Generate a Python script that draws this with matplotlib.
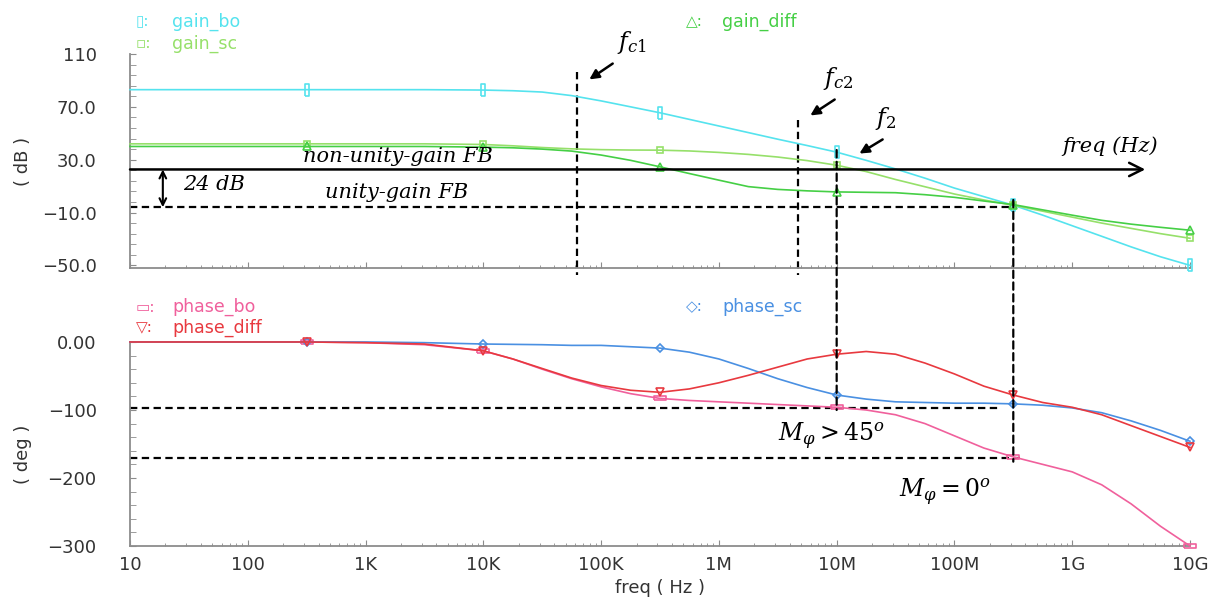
import numpy as np
import matplotlib
matplotlib.use( 'Agg' )
import matplotlib.pyplot as plt
from matplotlib.patches import ConnectionPatch, FancyArrowPatch
from matplotlib.ticker import FixedLocator, LogLocator, NullFormatter

W, H = 1226, 600

# values (freq in Hz)
freq_hz = [ 10, 100, 316, 1e3, 3.16e3, 1e4, 1.78e4, 3.16e4, 5.62e4, 1e5,
            1.78e5, 3.16e5, 5.62e5, 1e6, 1.78e6, 3.16e6, 5.62e6, 1e7, 1.78e7, 3.16e7,
            5.62e7, 1e8, 1.78e8, 3.16e8, 5.62e8, 1e9, 1.78e9, 3.16e9, 5.62e9, 1e10 ]

gain_bo = [ 83, 83, 83, 83, 83, 82.7, 82.2, 81.2, 78.5, 74.5,
            70, 65.5, 60.5, 55.5, 50.5, 45.5, 40.7, 35.7, 29.5, 23,
            16, 8.5, 2, -4.5, -12, -20, -28, -36, -43.5, -50 ]
gain_sc = [ 42, 42, 42, 42, 42, 41.5, 40.5, 39.2, 38.2, 37.6,
            37.3, 37.2, 36.6, 35.5, 34, 32, 29.3, 25.8, 21, 15,
            9.5, 4, -0.5, -4.5, -9, -13.5, -18, -22, -26, -29.5 ]
gain_diff = [ 40, 40, 40, 40, 40, 39.5, 39, 38, 36.5, 33.5,
              29.5, 24.6, 19.5, 14.5, 9.6, 7.5, 6.4, 5.6, 5.3, 5,
              3.5, 1.5, -1.3, -4, -8, -12, -15.9, -18.8, -21.2, -23.4 ]

phase_bo = [ 0, 0, 0, -1, -4, -13, -25, -40, -54, -66,
             -76, -83, -86, -88, -90, -92, -94, -96, -100, -107,
             -120, -138, -156, -169, -180, -191, -210, -238, -271, -300 ]
phase_diff = [ 0, 0, 0, -1, -3, -13, -25, -39, -53, -64,
               -71, -74, -69, -60, -49, -37, -25, -18, -14, -18,
               -31, -47, -65, -78, -89, -96, -107, -123, -139, -155 ]
phase_sc = [ 0, 0, 0, 0, -1, -3, -3.5, -4, -5, -5,
             -7, -9, -15, -25, -39, -54, -67, -78, -84, -88,
             -89, -90, -90, -91, -93, -97, -104, -116, -130, -146 ]

marker_freqs = [ 316, 1e4, 3.16e5, 1e7, 3.16e8, 1e10 ]

x_ticks = [ 10, 100, 1e3, 1e4, 1e5, 1e6, 1e7, 1e8, 1e9, 1e10 ]
x_tick_labels = [ '10', '100', '1K', '10K', '100K', '1M', '10M', '100M', '1G', '10G' ]
db_ticks = [ 110, 70, 30, -10, -50 ]
db_tick_labels = [ '110', '70.0', '30.0', '\u221210.0', '\u221250.0' ]
deg_ticks = [ 0, -100, -200, -300 ]
deg_tick_labels = [ '0.00', '\u2212100', '\u2212200', '\u2212300' ]

# annotation levels
fb_db = 22.6
unity_db = -6
pm45_deg = -97
pm0_deg = -171
f_c1, f_c2, f_2, f_0 = 6.24e4, 4.7e6, 1e7, 3.16e8

colors = {
    'gain_bo': '#55e3ee', 'gain_sc': '#96e06a', 'gain_diff': '#45cf45',
    'phase_bo': '#f0609c', 'phase_diff': '#e8393f', 'phase_sc': '#4a90e2',
}

BAR_V = [ (-0.35, -1), (0.35, -1), (0.35, 1), (-0.35, 1), (-0.35, -1) ]
BAR_H = [ (-1, -0.35), (1, -0.35), (1, 0.35), (-1, 0.35), (-1, -0.35) ]
DASH = (0, (3.3, 2.0))
AXC = '#8c8c8c'
TXC = '#333333'

plt.rcParams['mathtext.fontset'] = 'dejavuserif'


def P( x, y ):
    # reference pixel -> figure fraction
    return x / W, 1 - y / H


def style_axis( ax, ticks, labels, minor ):
    ax.set_xscale( 'log' )
    ax.set_xlim( 10, 1e10 )
    for s in [ 'top', 'right' ]:
        ax.spines[ s ].set_visible( False )
    for s in [ 'left', 'bottom' ]:
        ax.spines[ s ].set_color( AXC )
        ax.spines[ s ].set_linewidth( 1.3 )
    ax.set_xticks( x_ticks )
    ax.set_xticklabels( x_tick_labels )
    ax.xaxis.set_minor_locator( LogLocator( base=10, subs=range( 2, 10 ), numticks=100 ) )
    ax.xaxis.set_minor_formatter( NullFormatter() )
    ax.set_yticks( ticks )
    ax.set_yticklabels( labels )
    ax.yaxis.set_minor_locator( FixedLocator( minor ) )
    ax.tick_params( which='both', direction='in', color=AXC, labelcolor=TXC, labelsize=13 )
    ax.tick_params( axis='y', which='both', length=4, pad=24 )
    ax.tick_params( axis='x', which='major', length=4, pad=7 )
    ax.tick_params( axis='x', which='minor', length=2.5 )


def draw_series( ax, values, name, marker, ms ):
    idx = [ i for i, f in enumerate( freq_hz ) if any( np.isclose( f, m ) for m in marker_freqs ) ]
    ax.plot( freq_hz, values, color=colors[ name ], lw=1.2, marker=marker, ms=ms,
             mfc='none', mew=1.2, markevery=idx, clip_on=False, zorder=3 )


fig = plt.figure( figsize=( W / 100, H / 100 ), dpi=100 )
fig.patch.set_facecolor( 'white' )

ax1 = fig.add_axes( [ 130 / W, 1 - 268 / H, 1060 / W, 214 / H ] )
ax2 = fig.add_axes( [ 130 / W, 1 - 546 / H, 1060 / W, 204.7 / H ] )

ax1.set_ylim( -52, 110 )
style_axis( ax1, db_ticks, db_tick_labels, np.arange( -50, 111, 8 ) )
ax1.spines[ 'left' ].set_bounds( -52, 110 )
ax1.tick_params( axis='x', labelbottom=False )

ax2.set_ylim( -300, 1 )
style_axis( ax2, deg_ticks, deg_tick_labels, np.arange( -300, 1, 20 ) )
ax2.spines[ 'left' ].set_bounds( -300, 0 )

draw_series( ax1, gain_bo, 'gain_bo', BAR_V, 8 )
draw_series( ax1, gain_sc, 'gain_sc', 's', 5 )
draw_series( ax1, gain_diff, 'gain_diff', '^', 6 )
draw_series( ax2, phase_bo, 'phase_bo', BAR_H, 8 )
draw_series( ax2, phase_sc, 'phase_sc', 'D', 4.5 )
draw_series( ax2, phase_diff, 'phase_diff', 'v', 6 )

ax1.set_ylabel( '( dB )', fontsize=13, color=TXC )
ax1.yaxis.set_label_coords( -0.092, 0.5 )
ax2.set_ylabel( '( deg )', fontsize=13, color=TXC )
ax2.yaxis.set_label_coords( -0.092, 0.45 )
ax2.set_xlabel( 'freq ( Hz )', fontsize=13, color=TXC, labelpad=4 )

# legends, viewer style
legend = [
    ( 136, 22, '\u25af:', 'gain_bo', 'gain_bo' ),
    ( 136, 44, '\u25ab:', 'gain_sc', 'gain_sc' ),
    ( 686, 22, '\u25b3:', 'gain_diff', 'gain_diff' ),
    ( 136, 307, '\u25ad:', 'phase_bo', 'phase_bo' ),
    ( 136, 328, '\u25bd:', 'phase_diff', 'phase_diff' ),
    ( 686, 307, '\u25c7:', 'phase_sc', 'phase_sc' ),
]
for x, y, sym, label, key in legend:
    fig.text( *P( x, y ), sym, color=colors[ key ], fontsize=11, va='center', ha='left' )
    fig.text( *P( x + 36, y ), label, color=colors[ key ], fontsize=12.5, va='center', ha='left' )

# dashed guide lines
ax1.plot( [ f_c1, f_c1 ], [ 96.4, -57 ], color='k', lw=1.6, ls=DASH, clip_on=False )
ax1.plot( [ f_c2, f_c2 ], [ 60, -57 ], color='k', lw=1.6, ls=DASH, clip_on=False )
ax1.plot( [ 10, f_0 ], [ unity_db, unity_db ], color='k', lw=1.6, ls=DASH, clip_on=False )
ax2.plot( [ 10, 10 ** 8.39 ], [ pm45_deg, pm45_deg ], color='k', lw=1.6, ls=DASH, clip_on=False )
ax2.plot( [ 10, 10 ** 8.555 ], [ pm0_deg, pm0_deg ], color='k', lw=1.6, ls=DASH, clip_on=False )
for f, top, bottom in [ ( f_2, 37.3, -100 ), ( f_0, -0.5, -176 ) ]:
    cp = ConnectionPatch( xyA=( f, top ), coordsA=ax1.transData, xyB=( f, bottom ),
                          coordsB=ax2.transData, color='k', lw=1.6, linestyle=DASH )
    fig.add_artist( cp )

# feedback level arrow and the 24 dB span
ax1.annotate( '', xy=( 10 ** 9.62, fb_db ), xytext=( 10, fb_db ), annotation_clip=False,
              arrowprops=dict( arrowstyle='->', color='k', lw=1.8, mutation_scale=24, shrinkA=0, shrinkB=0 ) )
ax1.annotate( '', xy=( 19, unity_db ), xytext=( 19, fb_db ), annotation_clip=False,
              arrowprops=dict( arrowstyle='<->', color='k', lw=1.5, mutation_scale=12, shrinkA=0, shrinkB=0 ) )

serif = dict( family='DejaVu Serif', style='italic', ha='center', va='center', color='k' )
fig.text( *P( 398, 156 ), 'non-unity-gain FB', fontsize=15, **serif )
fig.text( *P( 397, 193 ), 'unity-gain FB', fontsize=15, **serif )
fig.text( *P( 214, 185 ), '24 dB', fontsize=15, **serif )
fig.text( *P( 1110, 146 ), 'freq (Hz)', fontsize=15, **serif )

for label, lx, ly, tail, head in [
    ( r'$f_{c1}$', 632, 42, ( 615, 62 ), ( 587, 81 ) ),
    ( r'$f_{c2}$', 838, 78, ( 837, 98 ), ( 808, 117 ) ),
    ( r'$f_{2}$', 886, 118, ( 885, 138 ), ( 857, 155 ) ),
]:
    fig.text( *P( lx, ly ), label, fontsize=17, ha='center', va='center' )
    fig.add_artist( FancyArrowPatch( P( *tail ), P( *head ), transform=fig.transFigure,
                    arrowstyle='-|>', mutation_scale=14, lw=1.8, color='k' ) )

fig.text( *P( 832, 436 ), r'$M_{\varphi} > \mathit{45}^{\mathit{o}}$', fontsize=17, ha='center', va='center' )
fig.text( *P( 945, 492 ), r'$M_{\varphi} = \mathit{0}^{\mathit{o}}$', fontsize=17, ha='center', va='center' )

fig.savefig( 'out.png', dpi=100 )
